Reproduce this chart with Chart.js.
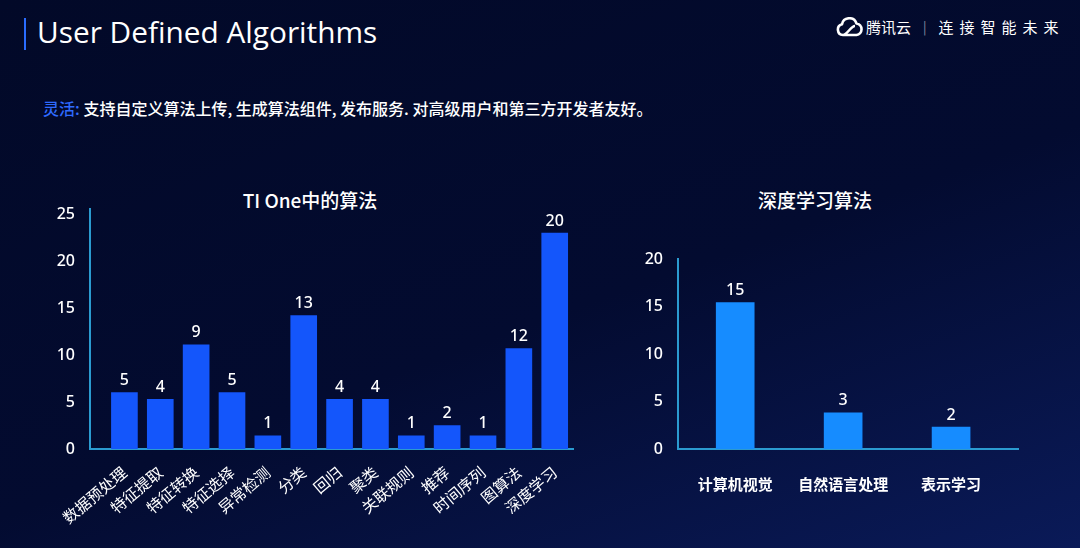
<!DOCTYPE html>
<html>
<head>
<meta charset="utf-8">
<script src="https://cdn.jsdelivr.net/npm/chart.js@4.4.0/dist/chart.umd.min.js"></script>
<style>
  html, body { margin: 0; padding: 0; }
  body {
    width: 1080px; height: 548px; overflow: hidden; position: relative;
    background: linear-gradient(160deg, #020928 0%, #030b30 55%, #0a1a58 100%);
    font-family: "Noto Sans CJK SC", "Noto Sans", sans-serif; color: #fff;
  }
  .bar { position: absolute; left: 24px; top: 18px; width: 2px; height: 32px; background: #2a6cff; }
  .head { position: absolute; left: 37px; top: 11px; font-family: "Open Sans", "Noto Sans", sans-serif; font-size: 29.8px; }
  .sub { position: absolute; left: 43px; top: 96px; font-size: 16px; font-weight: 500; }
  .sub span { color: #2f6bff; }
  .logo { position: absolute; left: 836px; top: 16px; font-size: 15px; display: flex; align-items: center; }
  .logo .sep { color: #8890a8; margin: 0 12px 0 12px; font-size: 13px; }
  .logo .slogan { letter-spacing: 6px; }
  .ctitle { position: absolute; top: 186px; font-size: 19px; font-weight: 500; transform: translateX(-50%); white-space: nowrap; }
  canvas { position: absolute; }
</style>
</head>
<body>
<div class="bar"></div>
<div class="head">User Defined Algorithms</div>
<div class="sub"><span>灵活:</span> 支持自定义算法上传, 生成算法组件, 发布服务. 对高级用户和第三方开发者友好。</div>
<div class="logo">
  <svg width="27" height="20" viewBox="0 0 27 20">
    <path d="M7 18 A5.5 5.5 0 0 1 6 7.2 A7.5 7.5 0 0 1 20.5 6.5 A5.8 5.8 0 0 1 20.5 18 Z M7 18 C11 18 15 9 19 9"
          fill="none" stroke="#fff" stroke-width="2.6" stroke-linejoin="round"/>
  </svg>
  <span style="margin-left:3px">腾讯云</span><span class="sep">|</span><span class="slogan">连接智能未来</span>
</div>
<div class="ctitle" style="left:310px">TI One中的算法</div>
<div class="ctitle" style="left:815px">深度学习算法</div>

<canvas id="graficoTiOne" width="600" height="364" style="left:0;top:184px;width:600px;height:364px"></canvas>
<canvas id="graficoDeep" width="480" height="353" style="left:600px;top:195px;width:480px;height:353px"></canvas>

<script>
// TI One 中的算法
const categoriasTiOne = ['数据预处理', '特征提取', '特征转换', '特征选择', '异常检测', '分类', '回归', '聚类', '关联规则', '推荐', '时间序列', '图算法', '深度学习'];
const alturasTiOne = [6.0, 5.3, 11.1, 6.0, 1.4, 14.2, 5.3, 5.3, 1.4, 2.5, 1.4, 10.7, 23.0];
const rotulosTiOne = ['5', '4', '9', '5', '1', '13', '4', '4', '1', '2', '1', '12', '20'];
const ticksTiOne = [0, 5, 10, 15, 20, 25];

// 深度学习算法
const categoriasDeep = ['计算机视觉', '自然语言处理', '表示学习'];
const alturasDeep = [15.4, 3.8, 2.3];
const rotulosDeep = ['15', '3', '2'];
const ticksDeep = [0, 5, 10, 15, 20];

Chart.defaults.font.family = "'Noto Sans CJK SC', 'Noto Sans', sans-serif";
Chart.defaults.color = '#ffffff';

const corEixo = '#2b9bd0';

// rotulos acima das barras
const rotulosPlugin = {
    id: 'rotulos',
    afterDatasetsDraw(chart, args, opts) {
        const ctx = chart.ctx;
        const meta = chart.getDatasetMeta(0);
        ctx.save();
        ctx.fillStyle = '#ffffff';
        ctx.font = "500 16px 'Noto Sans', sans-serif";
        ctx.textAlign = 'center';
        ctx.textBaseline = 'bottom';
        meta.data.forEach((bar, i) => {
            ctx.fillText(opts.textos[i], bar.x, bar.y - 4);
        });
        ctx.restore();
    }
};

function fixaTicks(valores) {
    return (scale) => { scale.ticks = valores.map(v => ({ value: v })); };
}
function indices(lista) {
    return lista.map((c, i) => i);
}

const graficoTiOne = new Chart(document.getElementById('graficoTiOne'), {
    type: 'bar',
    data: {
        datasets: [{
            data: alturasTiOne.map((v, i) => ({ x: i, y: v })),
            backgroundColor: '#1456fb',
            barThickness: 26
        }]
    },
    options: {
        responsive: false,
        animation: false,
        layout: { padding: { left: 0, right: 27, top: 1, bottom: 0 } },
        plugins: { legend: { display: false }, tooltip: { enabled: false }, rotulos: { textos: rotulosTiOne } },
        scales: {
            x: {
                type: 'linear',
                offset: false,
                min: -0.96,
                max: 12.51,
                grid: { display: false, drawTicks: false },
                border: { color: corEixo, width: 2 },
                afterBuildTicks: fixaTicks(indices(categoriasTiOne)),
                afterFit: (s) => { s.height = 99; },
                ticks: {
                    autoSkip: false,
                    minRotation: 40,
                    maxRotation: 40,
                    padding: 14,
                    font: { size: 15.5 },
                    callback: (v) => categoriasTiOne[v] ?? ''
                }
            },
            y: {
                min: 0,
                max: 25.6,
                grid: { display: false, drawTicks: false },
                border: { color: corEixo, width: 2 },
                afterBuildTicks: fixaTicks(ticksTiOne),
                afterFit: (s) => { s.width = 90; },
                ticks: { padding: 15, font: { size: 16, weight: '500', family: "'Noto Sans', sans-serif" } }
            }
        }
    },
    plugins: [rotulosPlugin]
});

const graficoDeep = new Chart(document.getElementById('graficoDeep'), {
    type: 'bar',
    data: {
        datasets: [{
            data: alturasDeep.map((v, i) => ({ x: i, y: v })),
            backgroundColor: '#168cff',
            barThickness: 38
        }]
    },
    options: {
        responsive: false,
        animation: false,
        layout: { padding: { left: 0, right: 62, top: 64, bottom: 0 } },
        plugins: { legend: { display: false }, tooltip: { enabled: false }, rotulos: { textos: rotulosDeep } },
        scales: {
            x: {
                type: 'linear',
                offset: false,
                min: -0.53,
                max: 2.62,
                grid: { display: false, drawTicks: false },
                border: { color: corEixo, width: 2 },
                afterBuildTicks: fixaTicks(indices(categoriasDeep)),
                afterFit: (s) => { s.height = 99; },
                ticks: {
                    autoSkip: false,
                    maxRotation: 0,
                    padding: 26,
                    font: { size: 15, weight: '600' },
                    callback: (v) => categoriasDeep[v] ?? ''
                }
            },
            y: {
                min: 0,
                max: 20,
                grid: { display: false, drawTicks: false },
                border: { color: corEixo, width: 2 },
                afterBuildTicks: fixaTicks(ticksDeep),
                afterFit: (s) => { s.width = 78; },
                ticks: { padding: 15, font: { size: 16, weight: '500', family: "'Noto Sans', sans-serif" } }
            }
        }
    },
    plugins: [rotulosPlugin]
});
</script>
</body>
</html>
